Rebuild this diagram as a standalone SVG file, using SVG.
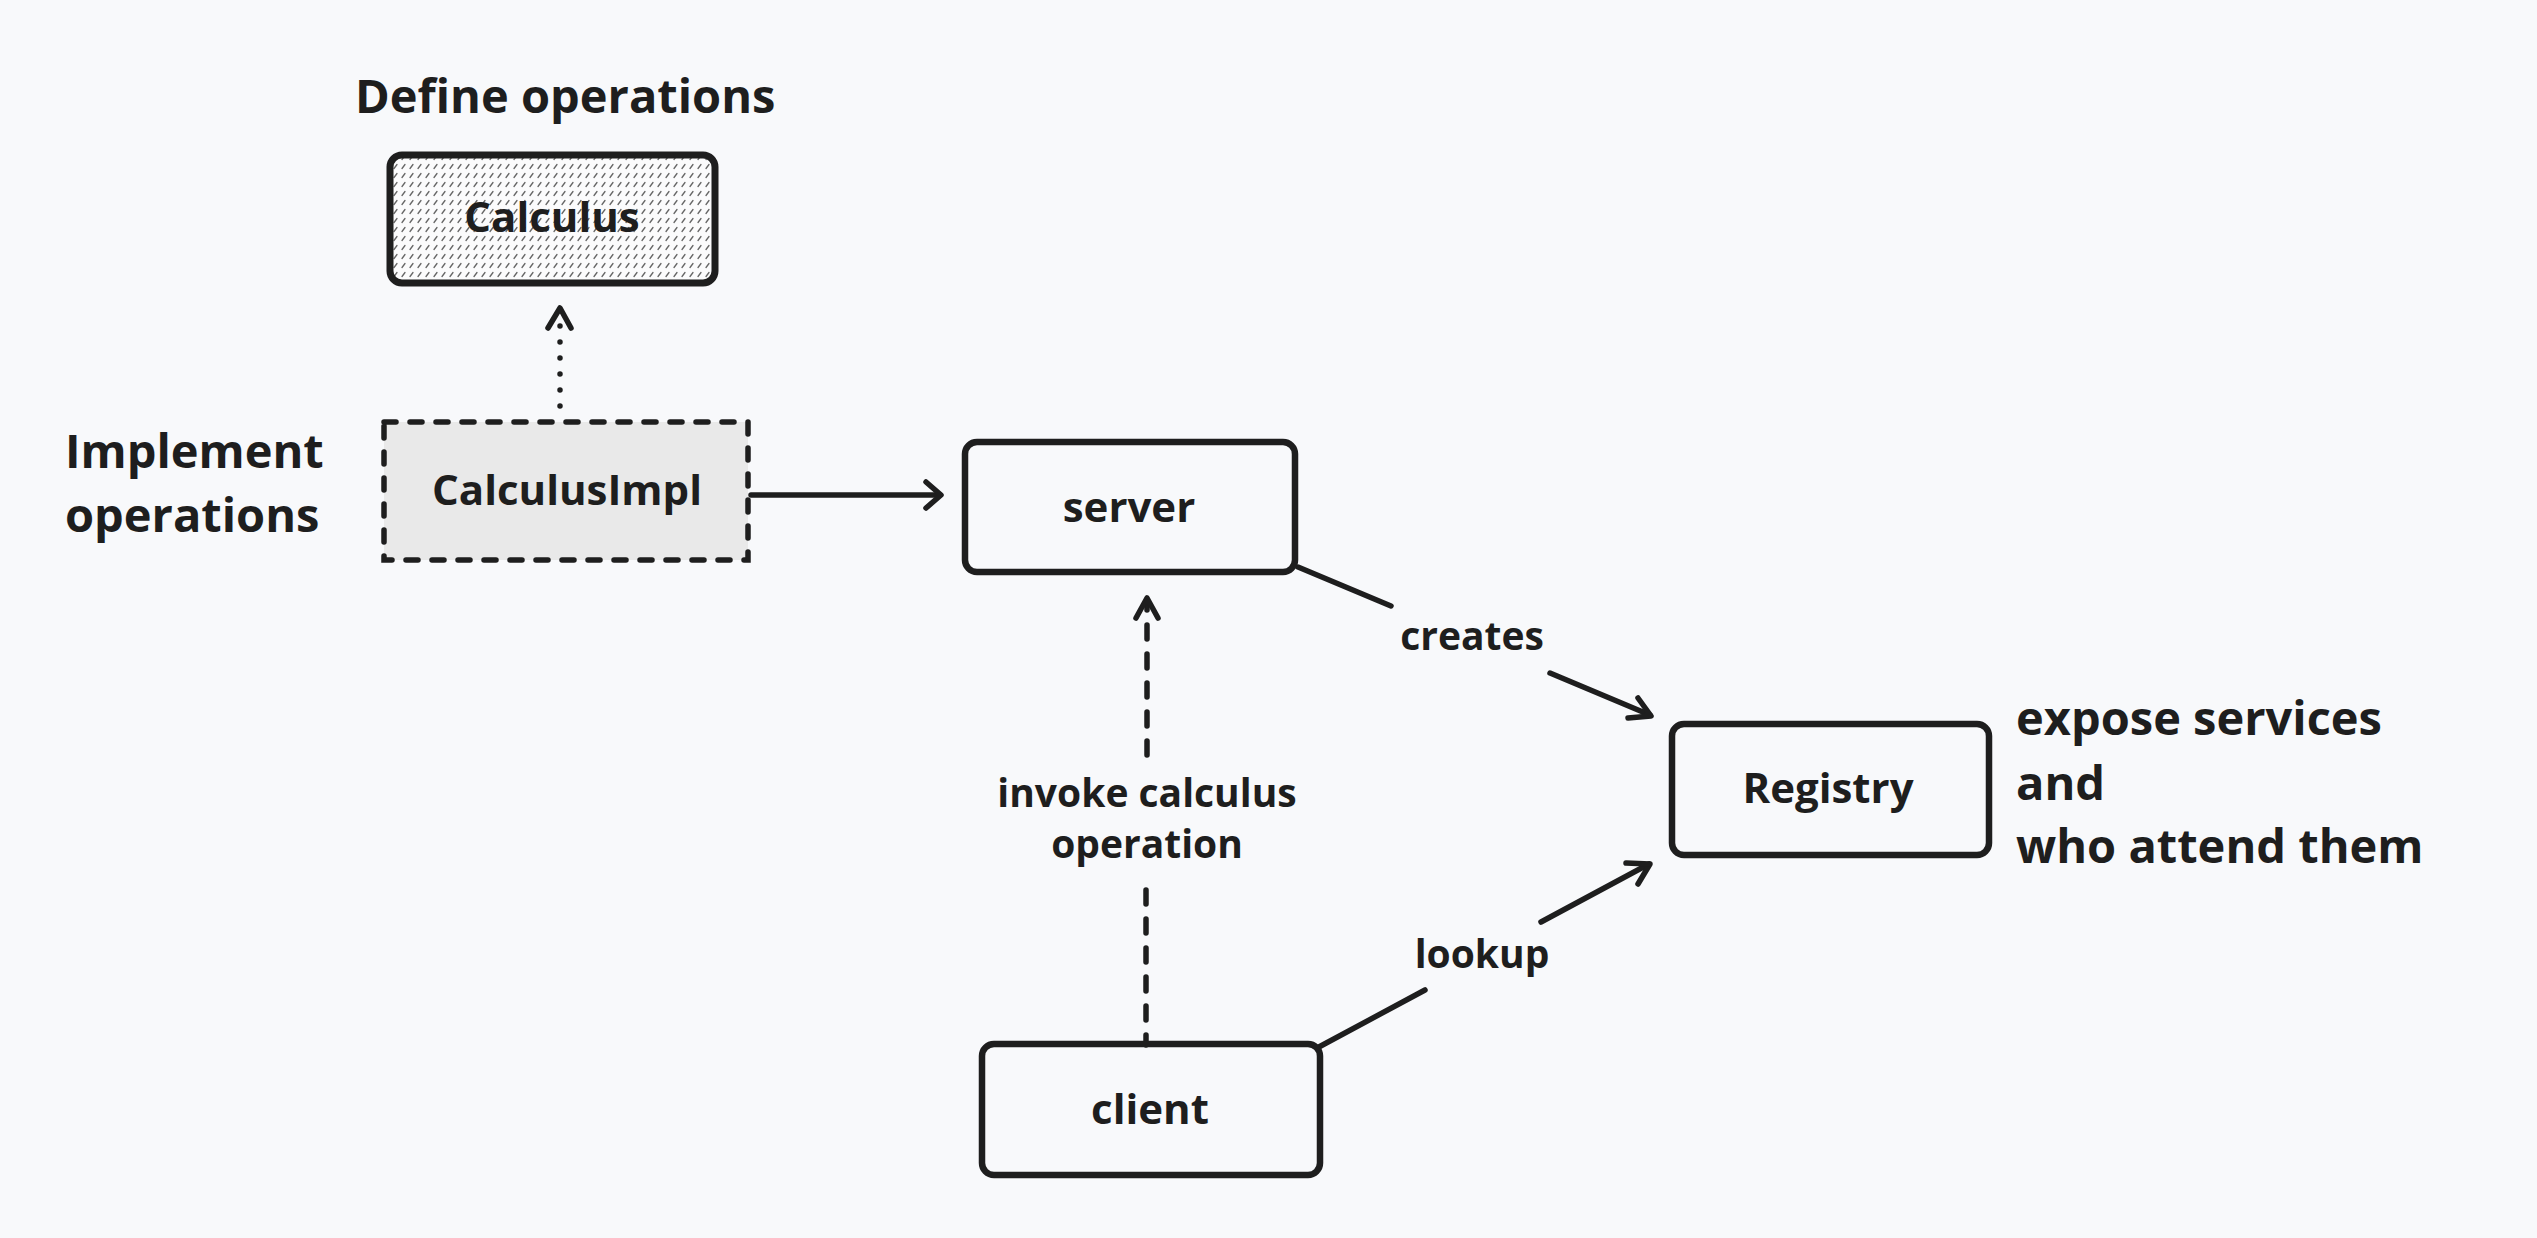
<svg xmlns="http://www.w3.org/2000/svg" width="2537" height="1238" viewBox="0 0 2537 1238">
<style>
.bg{fill:#f8f9fb}
.box{fill:none;stroke:#1e1e1e;stroke-width:6.5;stroke-linejoin:round}
.t{font-family:"Open Sans","Liberation Sans",sans-serif;font-weight:700;fill:#1e1e1e}
.lbl{font-size:42px;text-anchor:middle}
.note{font-size:47px}
.elbl{font-size:39px;text-anchor:middle}
.ln{fill:none;stroke:#1e1e1e;stroke-width:5.5;stroke-linecap:round;stroke-linejoin:round}
</style>
<defs>
<pattern id="hatch" width="8" height="9" patternUnits="userSpaceOnUse">
<rect width="8" height="9" fill="#fbfbfc"/>
<line x1="2" y1="6.5" x2="5" y2="2.5" stroke="#666" stroke-width="1.3" stroke-linecap="round"/>
</pattern>
</defs>
<rect class="bg" x="0" y="0" width="2537" height="1238"/>

<g id="connectors">
<line class="ln" x1="560" y1="406" x2="560" y2="312" stroke-width="7.5" stroke-dasharray="0 16"/>
<polyline class="ln" points="548,328 560,308 571,328"/>
<line class="ln" x1="751" y1="495" x2="940" y2="495"/>
<polyline class="ln" points="926,482 941,495 926,508"/>
<line class="ln" x1="1298" y1="567" x2="1391" y2="606"/>
<line class="ln" x1="1550" y1="673" x2="1650" y2="715"/>
<polyline class="ln" points="1638,698 1651,716 1628,718"/>
<line class="ln" x1="1147" y1="755" x2="1147" y2="604" stroke-dasharray="14 15"/>
<polyline class="ln" points="1136,618 1147,598 1158,618"/>
<line class="ln" x1="1146" y1="890" x2="1146" y2="1045" stroke-dasharray="14 15"/>
<line class="ln" x1="1317" y1="1048" x2="1425" y2="990"/>
<line class="ln" x1="1541" y1="922" x2="1649" y2="864"/>
<polyline class="ln" points="1626,863 1650,864 1638,884"/>
<text class="t elbl" x="1472" y="650">creates</text>
<text class="t elbl" x="1147" y="807">invoke calculus</text>
<text class="t elbl" x="1147" y="858">operation</text>
<text class="t elbl" x="1482" y="968">lookup</text>
</g>

<g id="calculus">
<rect x="390" y="155" width="325" height="128" rx="12" fill="url(#hatch)" stroke="#1e1e1e" stroke-width="7"/>
<text class="t lbl" x="552" y="232">Calculus</text>
</g>
<g id="calculus-impl">
<rect x="384" y="422" width="364" height="138" fill="#e9e9e9" stroke="#1e1e1e" stroke-width="5.5" stroke-dasharray="12 14" stroke-linecap="round"/>
<text class="t lbl" x="567" y="505">CalculusImpl</text>
</g>
<g id="server">
<rect class="box" x="965" y="442" width="330" height="130" rx="12"/>
<text class="t lbl" x="1129" y="522">server</text>
</g>
<g id="registry">
<rect class="box" x="1672" y="724" width="317" height="131" rx="12"/>
<text class="t lbl" x="1828" y="803">Registry</text>
</g>
<g id="client">
<rect class="box" x="982" y="1044" width="338" height="131" rx="12"/>
<text class="t lbl" x="1150" y="1124">client</text>
</g>
<g id="notes">
<text class="t note" x="355" y="113">Define operations</text>
<text class="t note" x="65" y="468">Implement</text>
<text class="t note" x="65" y="532">operations</text>
<text class="t note" x="2016" y="735">expose services</text>
<text class="t note" x="2016" y="800">and</text>
<text class="t note" x="2016" y="863">who attend them</text>
</g>
</svg>
